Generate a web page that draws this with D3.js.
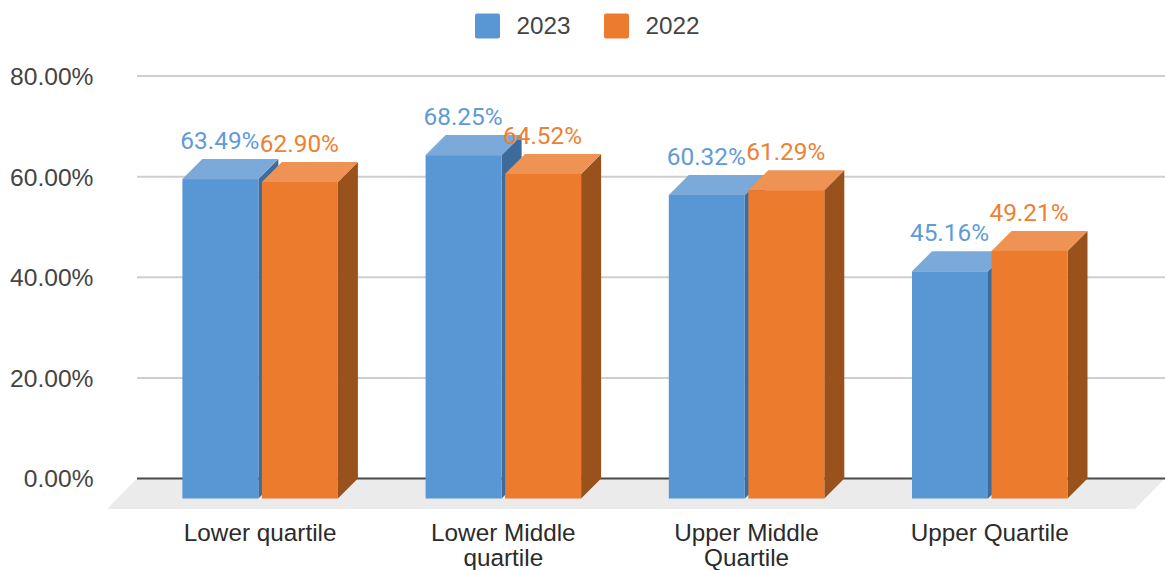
<!DOCTYPE html>
<html>
<head>
<meta charset="utf-8">
<script src="https://cdn.jsdelivr.net/npm/d3@7"></script>
<style>
html,body{margin:0;padding:0;background:#fff;overflow:hidden}
text{font-family:"Liberation Sans",Arial,sans-serif}
</style>
</head>
<body>
<svg id="c" width="1167" height="570"></svg>
<script>
const categories = ["Lower quartile", "Lower Middle|quartile", "Upper Middle|Quartile", "Upper Quartile"];
const seriesNames = ["2023", "2022"];
const values2023 = [63.49, 68.25, 60.32, 45.16];
const values2022 = [62.90, 64.52, 61.29, 49.21];
const tickValues = [0, 20, 40, 60, 80];

const colors = {
  "2023": {front:"#5896d4", top:"#7aa9da", side:"#3d6c9b", label:"#5f9bd8"},
  "2022": {front:"#ed7b2d", top:"#ee9354", side:"#99521b", label:"#ef7f33"}
};
const svg = d3.select("#c");
const depth = 20;
const y = d3.scaleLinear().domain([0, 80]).range([478.5, 76]);
const x0 = d3.scaleBand().domain(categories).range([182.4, 182.4 + 4 * 243.2]);
const barW = 76, gap = 3.5;
const left = c => x0(c);

// floor
svg.append("polygon").attr("fill", "#ebebeb")
  .attr("points", [[137, y(0)], [1165, y(0)], [1135, 509], [107, 509]].map(p => p.join(",")).join(" "));

// gridlines and y axis labels
const axis = d3.axisLeft(y).tickValues(tickValues).tickSize(0).tickPadding(0)
  .tickFormat(d => d3.format(".2f")(d) + "%");
const gAxis = svg.append("g").attr("transform", "translate(93.5,0.5)").call(axis);
gAxis.select(".domain").remove();
gAxis.selectAll("text").attr("font-size", 24.6).attr("fill", "#444").attr("font-family", '"Liberation Sans"');
svg.append("g").selectAll("line").data(tickValues).join("line")
  .attr("x1", 137).attr("x2", 1165)
  .attr("y1", d => y(d)).attr("y2", d => y(d))
  .attr("stroke", d => d === 0 ? "#4a4a4a" : "#cfcfcf").attr("stroke-width", 2);

// bars
const series = [["2023", values2023], ["2022", values2022]];
categories.forEach((c, i) => {
  series.forEach(([name, vals], s) => {
    const v = vals[i];
    const fx = left(c) + s * (barW + gap);
    const fb = y(0) + depth, ft = y(v) + depth, col = colors[name];
    const g = svg.append("g");
    g.append("polygon").attr("fill", col.side)
      .attr("points", [[fx + barW, ft], [fx + barW + depth, ft - depth], [fx + barW + depth, fb - depth], [fx + barW, fb]].map(p => p.join(",")).join(" "));
    g.append("polygon").attr("fill", col.top)
      .attr("points", [[fx, ft], [fx + depth, ft - depth], [fx + barW + depth, ft - depth], [fx + barW, ft]].map(p => p.join(",")).join(" "));
    g.append("rect").attr("x", fx).attr("y", ft).attr("width", barW).attr("height", fb - ft).attr("fill", col.front);
  });
});
// data labels
categories.forEach((c, i) => {
  series.forEach(([name, vals], s) => {
    const fx = left(c) + s * (barW + gap);
    svg.append("text").attr("x", fx + barW / 2 - 0.5).attr("y", y(vals[i]) - 10)
      .attr("text-anchor", "middle").style("font-family", "Roboto").attr("font-size", 24.4)
      .attr("fill", colors[name].label).text(d3.format(".2f")(vals[i]) + "%");
  });
});
// category labels
categories.forEach(c => {
  const cx = left(c) + barW + gap / 2;
  c.split("|").forEach((ln, k) => {
    svg.append("text").attr("x", cx).attr("y", 541 + k * 25).attr("text-anchor", "middle")
      .attr("font-size", 24.3).attr("fill", "#2b2b2b").text(ln);
  });
});
// legend
const legendX = [475, 604];
seriesNames.forEach((n, i) => {
  svg.append("rect").attr("x", legendX[i]).attr("y", 13.5).attr("width", 25).attr("height", 25).attr("rx", 2).attr("fill", colors[n].front);
  svg.append("text").attr("x", legendX[i] + 41.5).attr("y", 34).attr("font-size", 24.3).attr("fill", "#444").text(n);
});
</script>
</body>
</html>
